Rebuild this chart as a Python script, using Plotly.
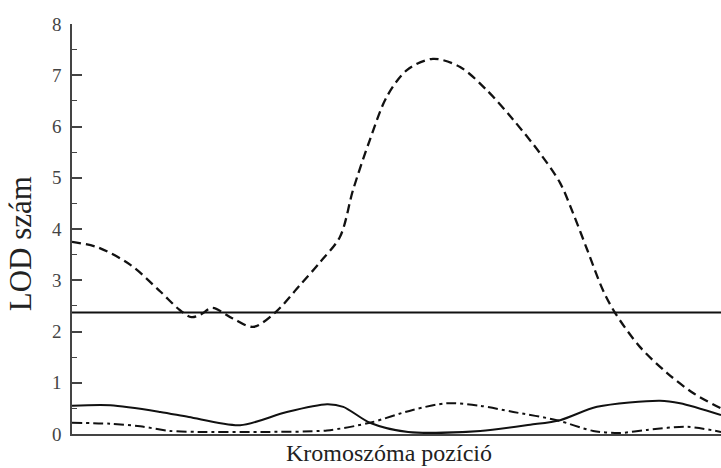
import plotly.graph_objects as go

# Data (x: relative chromosome position 0-100, y: LOD score)
dashed_x = [0.0, 4.0, 9.0, 13.6, 16.6, 18.4, 19.8, 21.6, 24.7, 27.9, 31.3, 35.1, 38.2, 41.3, 43.3, 45.9,
            48.5, 51.6, 55.6, 59.8, 63.9, 68.0, 72.1, 75.2, 77.2, 79.4, 81.8, 83.7, 87.5, 91.7, 95.7, 100.0]
dashed_y = [3.75, 3.64, 3.3, 2.78, 2.42, 2.28, 2.33, 2.46, 2.26, 2.09, 2.37, 2.9, 3.35, 3.85, 4.76, 5.74,
            6.58, 7.1, 7.32, 7.16, 6.71, 6.13, 5.48, 4.9, 4.31, 3.59, 2.81, 2.36, 1.70, 1.19, 0.8, 0.5]

solid_x = [0.0, 5.9, 13.6, 18.0, 25.9, 33.1, 39.3, 41.8, 45.9, 51.8, 62.9, 70.6, 75.2, 80.9, 90.6, 93.7, 100.0]
solid_y = [0.55, 0.56, 0.43, 0.33, 0.17, 0.43, 0.58, 0.53, 0.22, 0.04, 0.06, 0.18, 0.27, 0.53, 0.65, 0.6, 0.37]

dashdot_x = [0.0, 5.9, 10.5, 15.1, 19.7, 29.0, 39.3, 45.9, 52.5, 57.8, 62.9, 68.0, 74.7, 80.3, 84.4, 88.6, 94.8, 100.0]
dashdot_y = [0.22, 0.2, 0.15, 0.06, 0.04, 0.04, 0.07, 0.22, 0.47, 0.6, 0.55, 0.43, 0.27, 0.06, 0.02, 0.08, 0.14, 0.04]

threshold = 2.37
x_extent = [0.0, 100.0]

y_ticks = [0, 1, 2, 3, 4, 5, 6, 7, 8]
x_title = "Kromoszóma pozíció"
y_title = "LOD szám"

fig = go.Figure()
fig.add_trace(go.Scatter(x=x_extent, y=[threshold, threshold], mode="lines",
                         line=dict(color="#111", width=2)))
fig.add_trace(go.Scatter(x=dashed_x, y=dashed_y, mode="lines",
                         line=dict(color="#111", width=2.3, dash="9px,5px", shape="spline", smoothing=0.9)))
fig.add_trace(go.Scatter(x=solid_x, y=solid_y, mode="lines",
                         line=dict(color="#111", width=2, shape="spline", smoothing=0.8)))
fig.add_trace(go.Scatter(x=dashdot_x, y=dashdot_y, mode="lines",
                         line=dict(color="#111", width=2, dash="10px,4px,3px,4px", shape="spline", smoothing=0.8)))

font = "Liberation Serif, Times New Roman, serif"
fig.update_layout(
    width=721, height=468,
    margin=dict(l=72, r=0, t=24, b=34),
    paper_bgcolor="white", plot_bgcolor="white",
    showlegend=False,
    font=dict(family=font, color="#222"),
    xaxis=dict(range=[0, 100], showgrid=False, zeroline=False, showticklabels=False,
               ticks="", showline=True, linecolor="#444", linewidth=1.5),
    yaxis=dict(range=[0, 8], showgrid=False, zeroline=False, tickvals=y_ticks,
               ticks="inside", ticklen=10, tickwidth=1.5, tickcolor="#444",
               minor=dict(dtick=0.5, ticks="inside", ticklen=5, tickwidth=1.2, tickcolor="#444"),
               showline=True, linecolor="#444", linewidth=1.5, ticklabelstandoff=5,
               tickfont=dict(size=19, family=font, color="#444")),
    annotations=[
        dict(text=x_title, xref="paper", yref="paper", x=0.488, y=-0.047,
             xanchor="center", yanchor="middle", showarrow=False,
             font=dict(size=24, family=font, color="#222")),
        dict(text=y_title, xref="paper", yref="paper", x=-0.08, y=0.463, textangle=-90,
             xanchor="center", yanchor="middle", showarrow=False,
             font=dict(size=31, family=font, color="#222")),
    ],
)

fig.write_html("out.html")
